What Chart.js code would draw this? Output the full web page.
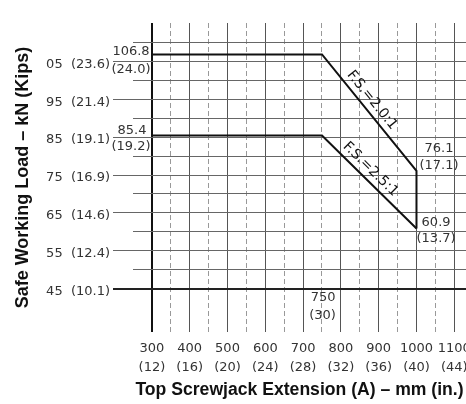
<!DOCTYPE html>
<html>
<head>
<meta charset="utf-8">
<script src="https://cdn.jsdelivr.net/npm/chart.js@4.4.1/dist/chart.umd.min.js"></script>
<style>
  body { margin: 0; background: #fff; }
  #wrap { width: 466px; height: 404px; }
</style>
</head>
<body>
<div id="wrap"><canvas id="chart" width="466" height="404"></canvas></div>
<script>
// grid lines (kN and mm)
const gridKN = [45, 50, 55, 60, 65, 70, 75, 80, 85, 90, 95, 100, 105, 110];
const gridMM = [300, 350, 400, 450, 500, 550, 600, 650, 700, 750, 800, 850, 900, 950, 1000, 1050, 1100];

// labelled ticks
const labelKN = [45, 55, 65, 75, 85, 95, 105];
const labelKNText = ['45', '55', '65', '75', '85', '95', '05'];
const labelKips = ['(10.1)', '(12.4)', '(14.6)', '(16.9)', '(19.1)', '(21.4)', '(23.6)'];
const labelMM = [300, 400, 500, 600, 700, 800, 900, 1000, 1100];
const labelIn = ['(12)', '(16)', '(20)', '(24)', '(28)', '(32)', '(36)', '(40)', '(44)'];

// safe working load curves
const fs20Ext = [300, 750, 1000, 1000];
const fs20Load = [106.8, 106.8, 76.1, 60.9];
const fs25Ext = [300, 750, 1000];
const fs25Load = [85.4, 85.4, 60.9];

// value callouts, centred on (mm, kN)
const notes = [
  { text: '106.8', mm: 244.7, kn: 107.55 },
  { text: '(24.0)', mm: 244.7, kn: 102.8 },
  { text: '85.4', mm: 247.4, kn: 86.6 },
  { text: '(19.2)', mm: 244.7, kn: 82.5 },
  { text: '76.1', mm: 1059.7, kn: 81.9 },
  { text: '(17.1)', mm: 1059.7, kn: 77.5 },
  { text: '60.9', mm: 1051.8, kn: 62.5 },
  { text: '(13.7)', mm: 1051.8, kn: 58.1 },
  { text: '750', mm: 752.8, kn: 42.6 },
  { text: '(30)', mm: 751.4, kn: 37.8 }
];

const toPoints = (xs, ys) => xs.map((x, i) => ({ x: x, y: ys[i] }));

// labels and F.S. captions drawn on top of the lines
const notesPlugin = {
  id: 'notes',
  afterDatasetsDraw(chart) {
    const { ctx } = chart;
    const x = chart.scales.x;
    const y = chart.scales.y;
    ctx.save();
    ctx.font = '13px "DejaVu Sans"';
    ctx.fillStyle = '#333';
    ctx.textAlign = 'center';
    ctx.textBaseline = 'middle';
    notes.forEach(n => {
      ctx.fillText(n.text, x.getPixelForValue(n.mm), y.getPixelForValue(n.kn));
    });

    // caption along the sloping part of each curve
    const slopes = [
      { text: 'F.S.=2.0:1', xs: fs20Ext, ys: fs20Load },
      { text: 'F.S.=2.5:1', xs: fs25Ext, ys: fs25Load }
    ];
    ctx.font = '14px "DejaVu Sans"';
    ctx.fillStyle = '#111';
    slopes.forEach(s => {
      const x1 = x.getPixelForValue(s.xs[1]), y1 = y.getPixelForValue(s.ys[1]);
      const x2 = x.getPixelForValue(s.xs[2]), y2 = y.getPixelForValue(s.ys[2]);
      const ang = Math.atan2(y2 - y1, x2 - x1);
      const ux = Math.cos(ang), uy = Math.sin(ang);
      const cx = (x1 + x2) / 2 + uy * 10 - ux * 8;
      const cy = (y1 + y2) / 2 - ux * 10 - uy * 8;
      ctx.save();
      ctx.translate(cx, cy);
      ctx.rotate(ang);
      ctx.fillText(s.text, 0, 0);
      ctx.restore();
    });
    ctx.restore();
  }
};

Chart.defaults.font.family = '"DejaVu Sans", sans-serif';

new Chart(document.getElementById('chart'), {
  type: 'line',
  data: {
    datasets: [
      {
        label: 'F.S.=2.0:1',
        data: toPoints(fs20Ext, fs20Load),
        borderColor: '#111',
        borderWidth: 2,
        pointRadius: 0,
        tension: 0,
        fill: false
      },
      {
        label: 'F.S.=2.5:1',
        data: toPoints(fs25Ext, fs25Load),
        borderColor: '#111',
        borderWidth: 2,
        pointRadius: 0,
        tension: 0,
        fill: false
      }
    ]
  },
  options: {
    responsive: false,
    animation: false,
    layout: { padding: { top: 23, left: 0, right: 0, bottom: 0 } },
    plugins: {
      legend: { display: false },
      tooltip: { enabled: false }
    },
    scales: {
      x: {
        type: 'linear',
        min: 250,
        max: 1131,
        afterBuildTicks: (s) => { s.ticks = gridMM.map(v => ({ value: v })); },
        afterFit: (s) => { s.height = 72; s.paddingLeft = 0; s.paddingRight = 0; },
        border: {
          display: false,
          dash: (c) => (c.tick && c.tick.value % 100 !== 0) ? [5, 3] : []
        },
        grid: {
          drawTicks: false,
          color: (c) => {
            if (!c.tick) return '#666';
            if (c.tick.value === 300) return '#111';
            return c.tick.value % 100 === 0 ? '#555' : '#999';
          },
          lineWidth: (c) => (c.tick && c.tick.value === 300) ? 2 : 1
        },
        ticks: {
          autoSkip: false,
          maxRotation: 0,
          padding: 7,
          color: '#333',
          font: { size: 13, lineHeight: 1.46 },
          callback: (v) => {
            const i = labelMM.indexOf(v);
            return i < 0 ? '' : [String(v), labelIn[i]];
          }
        },
        title: {
          display: true,
          text: 'Top Screwjack Extension (A) – mm (in.)',
          color: '#111',
          font: { family: '"Liberation Sans", Arial, sans-serif', size: 17.6, weight: 'bold' },
          padding: { top: 0, bottom: 3 }
        }
      },
      y: {
        type: 'linear',
        min: 33.6,
        max: 115.1,
        afterBuildTicks: (s) => { s.ticks = gridKN.map(v => ({ value: v })); },
        afterFit: (s) => { s.width = 133; s.paddingTop = 0; s.paddingBottom = 0; },
        border: { display: false },
        grid: {
          tickLength: 20,
          color: (c) => (c.tick && c.tick.value === 45) ? '#222' : '#666',
          lineWidth: (c) => (c.tick && c.tick.value === 45) ? 2 : 1,
          tickColor: (c) => {
            if (!c.tick || labelKN.indexOf(c.tick.value) < 0) return 'rgba(0,0,0,0)';
            return c.tick.value === 45 ? '#222' : '#666';
          }
        },
        ticks: {
          padding: 3,
          labelOffset: 3,
          color: '#333',
          font: { size: 13 },
          callback: (v) => {
            const i = labelKN.indexOf(v);
            return i < 0 ? '' : labelKNText[i] + '  ' + labelKips[i];
          }
        },
        title: {
          display: true,
          text: 'Safe Working Load – kN (Kips)',
          color: '#111',
          font: { family: '"Liberation Sans", Arial, sans-serif', size: 18, weight: 'bold' },
          padding: { top: 12, bottom: 0 }
        }
      }
    }
  },
  plugins: [notesPlugin]
});
</script>
</body>
</html>
